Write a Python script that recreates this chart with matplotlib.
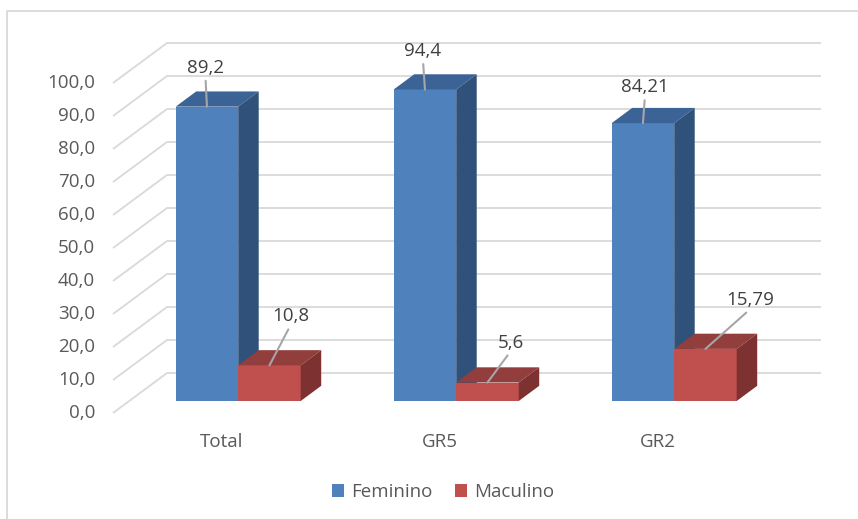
import matplotlib.pyplot as plt
from matplotlib.lines import Line2D
from matplotlib.patches import Patch

plt.rcParams['font.family'] = ['Open Sans', 'DejaVu Sans']

# data
categories = ["Total", "GR5", "GR2"]
series_names = ["Feminino", "Maculino"]
feminino = [89.2, 94.4, 84.21]
maculino = [10.8, 5.6, 15.79]
feminino_labels = ["89,2", "94,4", "84,21"]
maculino_labels = ["10,8", "5,6", "15,79"]
y_ticks = [0, 10, 20, 30, 40, 50, 60, 70, 80, 90, 100]

# styling / layout (pixels of the 858x519 picture)
W, H = 858, 519
ORIGIN_X, ORIGIN_Y = 113, 413     # front-left corner of the floor
PX_CAT = 218                      # pixels per category slot
PX_VAL = 3.3                      # pixels per value unit
DX = 54 / PX_CAT                  # full depth, category units
DY = 40 / PX_VAL                  # full depth, value units
BAR_W = 62.5 / PX_CAT
BAR_Z0 = 0.30                     # bar front sits at 30% of the depth
BAR_DZ = 0.38                     # bar depth as share of full depth

fem_cols = ("#4F81BD", "#3B6395", "#30527A")   # front, top, side
mac_cols = ("#C0504D", "#923E3C", "#7D3130")
grid_col = "#D9D9D9"
text_col = "#595959"
label_col = "#404040"
FS = 13.5

# label offsets from the bar's top-front centre, in pixels
fem_offsets = [(-1.5, 39), (-2, 38.5), (2, 36)]
mac_offsets = [(21, 49), (23, 40), (45, 49)]

fig = plt.figure(figsize=(W / 100, H / 100), dpi=100)
ax = fig.add_axes([0, 0, 1, 1])
x_left = -0.5 - ORIGIN_X / PX_CAT
y_bot = -(H - ORIGIN_Y) / PX_VAL
ax.set_xlim(x_left, x_left + W / PX_CAT)
ax.set_ylim(y_bot, y_bot + H / PX_VAL)
ax.set_axis_off()

n = len(categories)

# walls: side wall diagonals + back wall horizontals
for v in y_ticks:
    ax.plot([-0.5, -0.5 + DX, n - 0.5 + DX], [v, v + DY, v + DY],
            color=grid_col, lw=1.3, solid_capstyle='butt', zorder=1)
    ax.annotate(f"{v:.1f}".replace(".", ","), xy=(-0.5, v), xytext=(-18, 0),
                textcoords='offset pixels', ha='right', va='center',
                fontsize=FS, color=text_col)

for i, cat in enumerate(categories):
    ax.annotate(cat, xy=(i, 0), xytext=(0, -29), textcoords='offset pixels',
                ha='center', va='center', fontsize=FS, color=text_col)


def draw_bar(x0, value, cols):
    x1 = x0 + BAR_W
    b = BAR_Z0 * DY
    t = b + value
    ddx, ddy = BAR_DZ * DX, BAR_DZ * DY
    ax.fill([x0, x1, x1, x0], [b, b, t, t], color=cols[0], lw=0, zorder=3)
    ax.fill([x0, x1, x1 + ddx, x0 + ddx], [t, t, t + ddy, t + ddy],
            color=cols[1], lw=0, zorder=3)
    ax.fill([x1, x1 + ddx, x1 + ddx, x1], [b, b + ddy, t + ddy, t],
            color=cols[2], lw=0, zorder=3)
    return (x0 + x1) / 2, t


for i in range(n):
    shift = i + BAR_Z0 * DX
    groups = [
        (shift - BAR_W, feminino[i], fem_cols, feminino_labels[i], fem_offsets[i]),
        (shift, maculino[i], mac_cols, maculino_labels[i], mac_offsets[i]),
    ]
    for x0, val, cols, lab, off in groups:
        xc, top = draw_bar(x0, val, cols)
        ax.annotate(lab, xy=(xc, top), xytext=off, textcoords='offset pixels',
                    ha='center', va='center', fontsize=FS, color=label_col,
                    zorder=5,
                    arrowprops=dict(arrowstyle='-', color='#A6A6A6', lw=1.5,
                                    relpos=(0.5, 0), shrinkA=1, shrinkB=0))

# legend
handles = [Patch(facecolor=fem_cols[0], edgecolor='none'),
           Patch(facecolor=mac_cols[0], edgecolor='none')]
fig.legend(handles, series_names, loc='center', bbox_to_anchor=(443 / W, 1 - 492 / H),
           ncol=2, frameon=False, fontsize=FS, labelcolor=text_col,
           handlelength=0.65, handleheight=0.65, handletextpad=0.35,
           columnspacing=1.2)

# chart frame (top and left edges visible)
fig.add_artist(Line2D([7 / W, 7 / W, 1], [0, 1 - 10.5 / H, 1 - 10.5 / H],
                      transform=fig.transFigure, color=grid_col, lw=1.3))

fig.savefig("out.png", dpi=100)
